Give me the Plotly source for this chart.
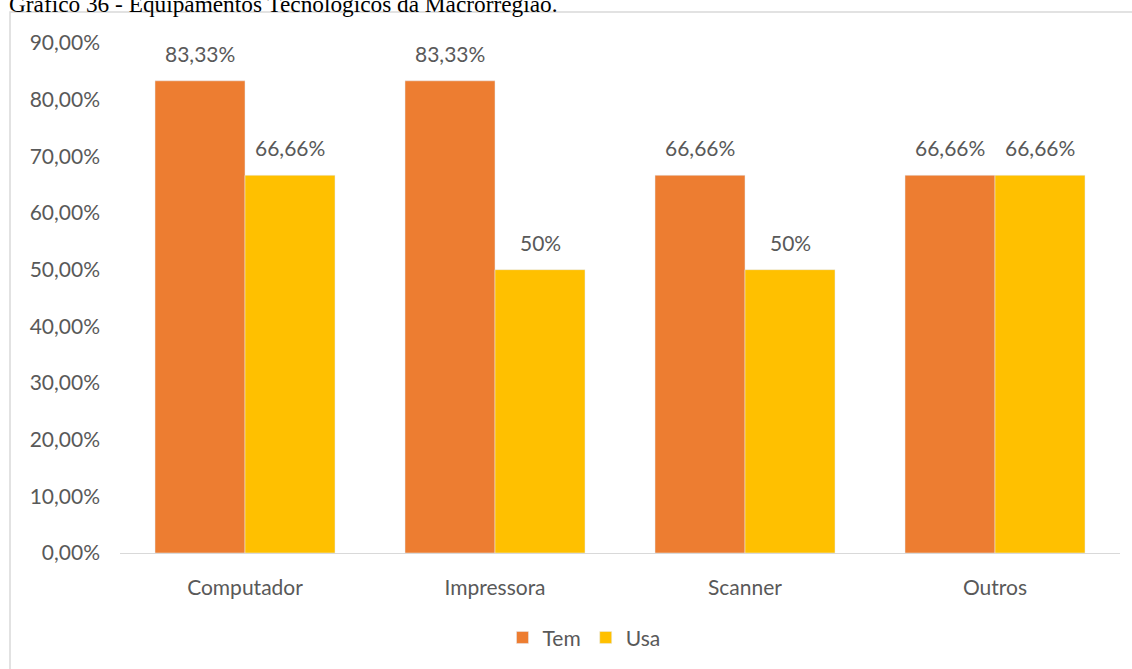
import plotly.graph_objects as go

categories = ['Computador', 'Impressora', 'Scanner', 'Outros']
tem = [0.8333, 0.8333, 0.6666, 0.6666]
usa = [0.6666, 0.50, 0.50, 0.6666]
tem_labels = ['83,33%', '83,33%', '66,66%', '66,66%']
usa_labels = ['66,66%', '50%', '50%', '66,66%']

TEXT = '#595959'
FONT = 'Lato'
SIZE = 21

fig = go.Figure()
fig.add_trace(go.Bar(name='Tem', x=categories, y=tem, marker_color='#ED7D31',
                     offsetgroup='tem'))
fig.add_trace(go.Bar(name='Usa', x=categories, y=usa, marker_color='#FFC000',
                     offsetgroup='usa'))

# data labels sit well above the bars, like the original spreadsheet chart
annotations = []
for vals, labels, shift in [(tem, tem_labels, -0.18), (usa, usa_labels, 0.18)]:
    for i, (v, t) in enumerate(zip(vals, labels)):
        annotations.append(dict(x=i + shift, y=v, xref='x', yref='y', text=t,
                                showarrow=False, yanchor='bottom', yshift=13,
                                font=dict(family=FONT, size=SIZE, color=TEXT)))

annotations.append(dict(text='Gráfico 36 - Equipamentos Tecnológicos da Macrorregião.',
                        xref='paper', yref='paper', x=-0.113, y=1.047,
                        xanchor='left', yanchor='bottom', showarrow=False,
                        font=dict(family='Liberation Serif', size=23.3, color='black')))

fig.update_layout(
    width=1132, height=669,
    margin=dict(l=120, r=12, t=43, b=115),
    plot_bgcolor='white', paper_bgcolor='white',
    barmode='group', bargap=0.28, bargroupgap=0,
    separators=',.',
    font=dict(family=FONT, size=SIZE, color=TEXT),
    annotations=annotations,
    legend=dict(orientation='h', x=0.464, xanchor='center', y=-0.164, yanchor='middle',
                font=dict(family=FONT, size=SIZE, color=TEXT), itemwidth=30,
                traceorder='normal'),
    shapes=[dict(type='rect', xref='paper', yref='paper', x0=-0.11, x1=1.2,
                 y0=-0.5, y1=1.0607, line=dict(color='#D9D9D9', width=1.5),
                 fillcolor='rgba(0,0,0,0)', layer='below')],
)
fig.update_xaxes(showgrid=False, showline=True, linecolor='#D9D9D9', linewidth=1,
                 ticks='', ticklabelstandoff=16,
                 tickfont=dict(family=FONT, size=SIZE, color=TEXT))
fig.update_yaxes(range=[0, 0.9], dtick=0.1, tickformat='.2%', showgrid=False,
                 zeroline=False, showline=False, ticklabelstandoff=19,
                 tickfont=dict(family=FONT, size=SIZE, color=TEXT))

# drop the default 8px page margin so the figure sits at the window's corner
fig.write_html('out.html', config={'displayModeBar': False},
               post_script="document.body.style.margin='0';")
